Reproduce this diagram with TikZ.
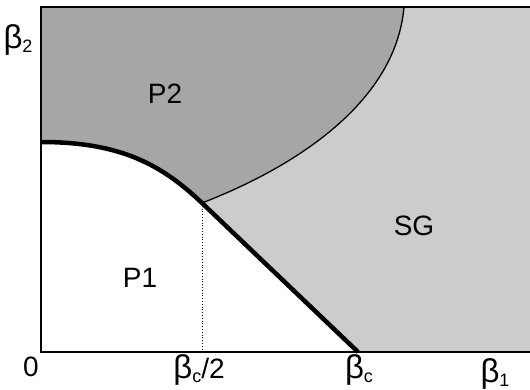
\documentclass[tikz,border=0pt]{standalone}
\usepackage{fontspec}
\setmainfont{Liberation Sans}
\newcommand\lowsub[1]{\raisebox{-0.3ex}{\fontsize{18}{18}\selectfont #1}}
\newcommand\bigbeta{{\fontsize{33}{33}\selectfont β}}
\definecolor{sgcol}{HTML}{CCCCCC}
\definecolor{ptwocol}{HTML}{A6A6A6}
\begin{document}
\begin{tikzpicture}[x=1pt,y=-1pt,
  lab/.style={inner sep=0pt, font=\fontsize{28}{28}\selectfont, anchor=base},
  axisline/.style={line width=2pt},
  phaseline/.style={line width=4.5pt},
  sgline/.style={line width=1.3pt},
  guide/.style={dotted, line width=0.8pt}]
\useasboundingbox (0,0) rectangle (530,389);
\coordinate (tl) at (41,7);
\coordinate (tr) at (530,7);
\coordinate (bl) at (41,352);
\coordinate (br) at (530,352);
\coordinate (ptop) at (41,142);
\coordinate (jn) at (202,203);
\coordinate (bc) at (358,352);
\coordinate (sgtop) at (404,7);
% regions
\fill[sgcol] (tl) rectangle (br);
\fill[ptwocol] (tl) -- (sgtop) .. controls (396,100) and (300,165) .. (jn)
  .. controls (162,165) and (121,142) .. (ptop) -- cycle;
\fill[white] (ptop) .. controls (121,142) and (162,165) .. (jn) -- (bc) -- (bl) -- cycle;
% boundaries
\draw[sgline] (sgtop) .. controls (396,100) and (300,165) .. (jn);
\draw[guide] (jn) -- (jn |- bl);
\draw[phaseline] (ptop) .. controls (121,142) and (162,165) .. (jn) -- (bc);
\draw[axisline] (tr) -- (tl) -- (bl) -- (br);
% labels
\node[lab] (lP2) at (165,103) {P2};
\node[lab] (lSG) at (414,235) {SG};
\node[lab] (lP1) at (140,287) {P1};
\node[lab] (lzero) at (31,376) {0};
\node[lab] (lbtwo) at (18,48) {\bigbeta\lowsub{2}};
\node[lab] (lbchalf) at (199,378) {\bigbeta\lowsub{c}/2};
\node[lab] (lbc) at (359,378) {\bigbeta\lowsub{c}};
\node[lab] (lbone) at (495,382) {\bigbeta\lowsub{1}};
\end{tikzpicture}
\end{document}
